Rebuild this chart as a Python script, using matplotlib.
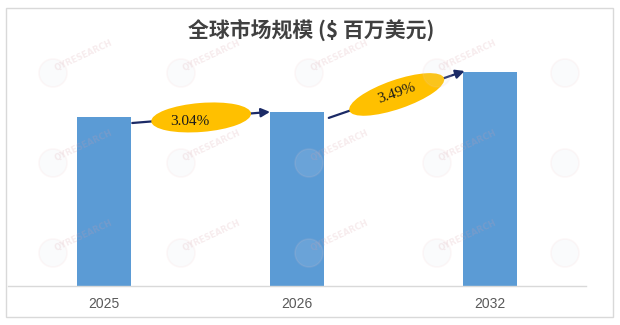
import numpy as np
import matplotlib.pyplot as plt
from matplotlib.patches import Ellipse, Rectangle
from matplotlib.transforms import ScaledTranslation, offset_copy

# data (million USD, estimated)
years = ['2025', '2026', '2032']
values = [1690, 1741, 2140]
growth = ['3.04%', '3.49%']
title = '全球市场规模 ($ 百万美元)'

bar_color = '#5B9BD5'
ell_color = '#FFC000'
arrow_color = '#1B2A66'

fig = plt.figure(figsize=(6.2, 3.25), dpi=100)
W, H = 620, 325

# frame round the whole chart
fig.add_artist(Rectangle((6/W, 1 - 317/H), 607/W, 309/H, transform=fig.transFigure,
                         fill=False, edgecolor='#D9D9D9', lw=1))

ax = fig.add_axes([8/W, 1 - 286/H, 578/W, 236/H])
x = np.arange(len(years))
bw = 0.28
ax.bar(x, values, width=bw, color=bar_color, zorder=2)
ax.set_xlim(-0.5, 2.5)
ax.set_ylim(0, 2360)
ax.set_xticks(x)
ax.set_xticklabels(years, fontfamily='Liberation Sans', fontsize=10, color='#595959')
ax.tick_params(axis='x', length=0, pad=8)
ax.set_yticks([])
for s in ['top', 'right', 'left']:
    ax.spines[s].set_visible(False)
ax.spines['bottom'].set_color('#D9D9D9')
ax.spines['bottom'].set_linewidth(1)
ax.patch.set_alpha(0)

fig.text(311/W, 1 - 30/H, title, ha='center', va='center', fontsize=15,
         fontfamily=['Noto Sans CJK SC', 'DejaVu Sans'], fontweight='bold', color='#404040')

# growth arrows with ellipse labels
text_shift = [(-11, -4), (0, 1)]  # label offset inside ellipse, pixels
for i in range(len(growth)):
    start = (x[i] + bw/2 + 0.005*(1 + 4*i), values[i] - 60)
    end = (x[i+1] - bw/2 + 0.01*i, values[i+1] + 10*i)
    ax.annotate('', xy=end, xytext=start,
                arrowprops=dict(arrowstyle='-|>', color=arrow_color, lw=1.6,
                                mutation_scale=13, shrinkA=0, shrinkB=0), zorder=3)
    p0 = ax.transData.transform(start)
    p1 = ax.transData.transform(end)
    ang = np.degrees(np.arctan2(p1[1] - p0[1], p1[0] - p0[0]))
    cx, cy = (start[0] + end[0]) / 2, (start[1] + end[1]) / 2
    tr = fig.dpi_scale_trans + ScaledTranslation(cx, cy, ax.transData)
    ax.add_artist(Ellipse((0, 0), 1.0, 0.29, angle=ang, transform=tr,
                          facecolor=ell_color, edgecolor='none', zorder=4))
    ttr = offset_copy(ax.transData, fig=fig, x=text_shift[i][0], y=text_shift[i][1], units='dots')
    ax.text(cx, cy, growth[i], transform=ttr, ha='center', va='center',
            rotation=ang * i, rotation_mode='anchor', fontsize=11,
            fontfamily='Liberation Serif', color='#1A1A1A', zorder=5)

# faint watermark
for wy in [73, 163, 253]:
    for wx in [53, 181, 309, 437, 565]:
        trw = fig.dpi_scale_trans + ScaledTranslation(wx/W, 1 - wy/H, fig.transFigure)
        fig.add_artist(Ellipse((0, 0), 0.28, 0.28, transform=trw, facecolor='#DCE4EE',
                               edgecolor='#F4C4C4', lw=1.2, alpha=0.12, zorder=6))
        if wx < 500:
            fig.text(0.04, 0.0, 'QYRESEARCH', transform=trw, rotation=25, fontsize=6,
                     fontweight='bold', color='#D8A0A8', alpha=0.2, ha='left', va='bottom',
                     rotation_mode='anchor', zorder=6)

fig.savefig('out.png', dpi=100)
